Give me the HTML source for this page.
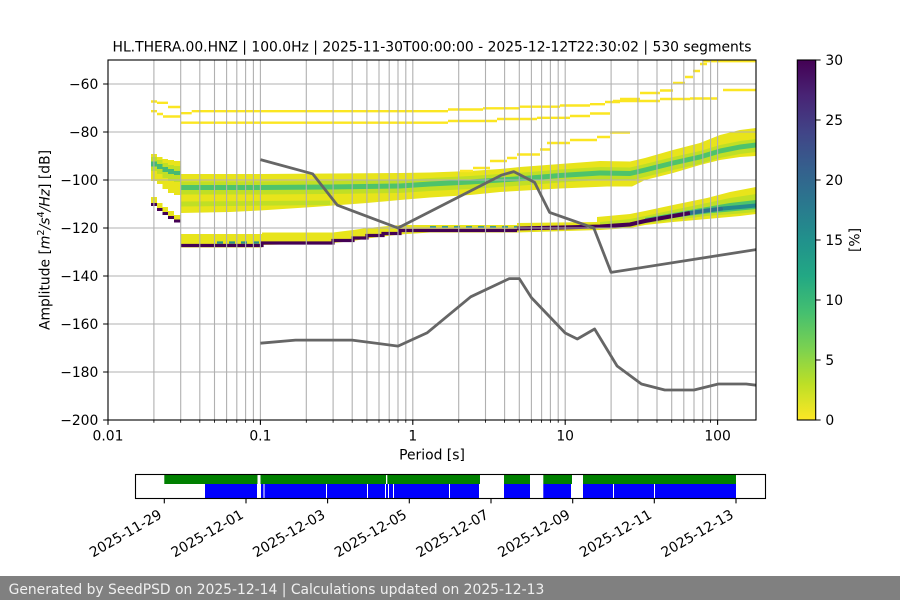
<!DOCTYPE html>
<html><head><meta charset="utf-8"><style>html,body{margin:0;padding:0;background:#fff;}svg{display:block;}</style></head>
<body>
<svg xmlns="http://www.w3.org/2000/svg" width="900" height="600" viewBox="0 0 900 600" font-family="'DejaVu Sans','Liberation Sans',sans-serif" font-size="13.89">
<rect width="900" height="600" fill="#fff"/>
<defs>
<clipPath id="ax"><rect x="108" y="60" width="648" height="360"/></clipPath>
<linearGradient id="vir" x1="0" y1="0" x2="0" y2="1">
<stop offset="0" stop-color="#440154"/><stop offset="0.1" stop-color="#482475"/><stop offset="0.2" stop-color="#414487"/><stop offset="0.3" stop-color="#355f8d"/><stop offset="0.4" stop-color="#2a788e"/><stop offset="0.5" stop-color="#21918c"/><stop offset="0.6" stop-color="#22a884"/><stop offset="0.7" stop-color="#44bf70"/><stop offset="0.8" stop-color="#7ad151"/><stop offset="0.9" stop-color="#bddf26"/><stop offset="1" stop-color="#fde725"/>
</linearGradient>
</defs>

<text x="432" y="51.7" text-anchor="middle">HL.THERA.00.HNZ | 100.0Hz | 2025-11-30T00:00:00 - 2025-12-12T22:30:02 | 530 segments</text>

<g clip-path="url(#ax)">
<!-- left upper columns -->
<g fill="#e8e41b">
<rect x="151" y="154" width="6" height="27"/><rect x="157" y="157" width="5.5" height="27"/><rect x="162.5" y="159" width="5.5" height="30"/><rect x="168" y="160" width="6" height="33"/><rect x="174" y="161" width="6.7" height="34"/>
</g>
<g fill="#c0df25">
<rect x="151" y="157" width="6" height="14"/><rect x="157" y="160" width="5.5" height="14"/><rect x="162.5" y="163" width="5.5" height="15"/><rect x="168" y="165" width="6" height="16"/><rect x="174" y="166" width="6.7" height="16"/>
</g>
<g fill="#45b974">
<rect x="151" y="161.5" width="6" height="5"/><rect x="157" y="164" width="5.5" height="5"/><rect x="162.5" y="167" width="5.5" height="5"/><rect x="168" y="169" width="6" height="5"/><rect x="174" y="171" width="6.7" height="4"/>
</g>
<!-- left lower staircase -->
<g fill="#e8e41b">
<rect x="151" y="197" width="6" height="6"/><rect x="157" y="203" width="5.5" height="5"/><rect x="162.5" y="207" width="5.5" height="5"/><rect x="168" y="211" width="6" height="5"/><rect x="174" y="215" width="6.7" height="4.5"/>
</g>
<g fill="#440154">
<rect x="151" y="203" width="6" height="3"/><rect x="157" y="208" width="5.5" height="3"/><rect x="162.5" y="212" width="5.5" height="3"/><rect x="168" y="216" width="6" height="3"/><rect x="174" y="219.5" width="6.7" height="3"/>
</g>

<!-- main upper band -->
<polygon fill="#e8e41b" points="180.7,174 260,174 330,173.5 400,173 430,172.5 470,171 500,169 520,167 560,164 600,161 630,161.5 645,158 673,150 700,143 720,135 740,130 756,128 756,156 740,157 720,160 700,165 673,173 645,180 632,186.5 607,186.5 560,188.5 500,192 470,195 430,197.5 400,200 367,203 313,207 260,210.5 230,212 180.7,213"/>
<polygon fill="#c0df25" points="180.7,181.5 260,181.5 330,181 400,180 430,178 470,176 500,174 530,172 560,169.5 600,167 630,167.5 645,164 673,157 700,151 720,145 740,141 756,139 756,152 740,154 720,158 700,164 673,170 645,177 630,180.5 600,180 560,182.5 530,185 500,187 470,189 430,191 400,193 330,194 260,194.5 180.7,194.5"/>
<polygon fill="#c0df25" points="180.7,201.5 330,200.5 330,205 180.7,206.5"/>
<polygon fill="#4ec36b" points="180.7,185 260,185 330,184.5 400,183.5 430,181.5 470,179.5 500,177.5 530,175.5 560,173 600,170.5 630,171 645,167.5 673,160.5 700,154.5 720,148.5 740,144.5 756,142.5 756,147.5 740,149.5 720,153.5 700,159.5 673,165.5 645,172.5 630,176 600,175.5 560,178 530,180.5 500,182.5 470,184.5 430,186.5 400,188.5 330,189.5 260,190 180.7,190"/>

<!-- lower band -->
<polygon fill="#e8e41b" points="180.7,234 262,234 262,232.5 333,232.5 353,230 367,228 383,226.5 400,225 517,225 517,223 597,222 597,217 630,214 645,211 673,205 707,198 730,192 756,187 756,214 740,216 707,219 673,222 645,225 630,228 600,230 517,232.5 430,232.5 400,234.5 383,236.5 367,238.5 353,241 333,243 262,245 262,247.5 180.7,247.5"/>
<polygon fill="#c0df25" points="600,222 630,219 645,216 673,210 707,203 730,198 756,194 756,212 740,213.5 707,216 673,220 645,223.5 630,227 600,229"/>
<polygon fill="#4ec36b" points="645,218 673,213 707,207 730,203 756,200 756,209 730,211.5 707,213.5 673,218 645,222"/>
<path d="M430,227.3 H517 M217,242.6 H262" stroke="#2a8f8c" stroke-width="2.4" stroke-dasharray="6 6" fill="none"/>
<path d="M180.7,245.5 H262 V243 H333 V240.5 H353 V238 H367 V235.5 H383 V233.5 H400 V230.5 H517" stroke="#440154" stroke-width="3.2" fill="none"/>
<path d="M517,228.5 L560,227.5 L600,226.5 L630,224.5 L645,221 L673,216 L690,213" stroke="#440154" stroke-width="4" fill="none"/>
<path d="M690,213 L707,210.5 L723,208.5" stroke="#2c728e" stroke-width="4" fill="none"/>
<path d="M723,208.5 L740,207 L756,205.5" stroke="#23898e" stroke-width="4" fill="none"/>

<!-- thin yellow lines -->
<g stroke="#fbe622" stroke-width="2.4" fill="none">
<path d="M151,101.5 H157 M157,102.8 H168 M168,107 H180.7 M180.7,113.2 H191.7 M191.7,111.2 H448 M448,109.5 H483 M483,108.3 H520 M520,106.7 H560 M560,105.5 H590 M590,104.2 H605 M605,102 H620 M620,99 H640 M640,93 H660 M660,90.5 H673 M673,83 H685 M685,77 H693 M693,71 H700 M700,64 H707 M703,61.2 H756"/>
<path d="M151,111.2 H157 M157,114 H163 M163,116.5 H180.7 M180.7,122.7 H448 M448,121 H497 M497,119 H537 M537,117.8 H570 M570,116 H590 M590,113.5 H610"/>
<path d="M460,171 H473 M473,168 H490 M490,161 H507 M507,158 H517 M517,154.5 H540 M540,149.5 H550 M547,143 H570 M570,140 H597 M597,137 H610 M610,132.5 H630"/>
<path d="M613,101 H660 M660,99 H690 M690,98.5 H717 M723,90 H756"/>
</g>

<!-- grid -->
<path stroke="#b0b0b0" stroke-width="1.1" fill="none" d="M153.9,60V420M180.7,60V420M199.8,60V420M214.5,60V420M226.6,60V420M236.8,60V420M245.6,60V420M253.4,60V420M260.4,60V420M306.3,60V420M333.1,60V420M352.2,60V420M366.9,60V420M379,60V420M389.2,60V420M398,60V420M405.8,60V420M412.8,60V420M458.7,60V420M485.5,60V420M504.6,60V420M519.3,60V420M531.4,60V420M541.6,60V420M550.4,60V420M558.2,60V420M565.2,60V420M611.1,60V420M637.9,60V420M657,60V420M671.7,60V420M683.8,60V420M694,60V420M702.8,60V420M710.6,60V420M717.6,60V420M108,84H756M108,132H756M108,180H756M108,228H756M108,276H756M108,324H756M108,372H756"/>

<!-- noise models -->
<polyline fill="none" stroke="#666666" stroke-width="2.8" stroke-linejoin="round" points="260.4,159.6 312.6,173.8 337.4,205.2 398,228 501.2,175.2 513.8,171.6 534.6,182.4 549.6,212.4 593.8,228 611.1,272.4 756,249.6"/>
<polyline fill="none" stroke="#666666" stroke-width="2.8" stroke-linejoin="round" points="260.4,343.2 295.5,340.1 352.1,340.1 398,346.1 427,332.9 470.7,296.8 509.3,278.6 519.3,278.6 531.4,297.6 565.2,333 577.3,339 594.6,329 617.1,366 641.4,384 664.8,390 694,390 718.3,384 746.2,384 756,385.2"/>
</g>

<!-- spines -->
<rect x="108" y="60" width="648" height="360" fill="none" stroke="#000" stroke-width="1.1"/>
<!-- x ticks -->
<path stroke="#000" stroke-width="1.1" d="M108,420V424.9M260.4,420V424.9M412.8,420V424.9M565.2,420V424.9M717.6,420V424.9"/>
<path stroke="#000" stroke-width="0.83" d="M153.9,420V422.8M180.7,420V422.8M199.8,420V422.8M214.5,420V422.8M226.6,420V422.8M236.8,420V422.8M245.6,420V422.8M253.4,420V422.8M306.3,420V422.8M333.1,420V422.8M352.2,420V422.8M366.9,420V422.8M379,420V422.8M389.2,420V422.8M398,420V422.8M405.8,420V422.8M458.7,420V422.8M485.5,420V422.8M504.6,420V422.8M519.3,420V422.8M531.4,420V422.8M541.6,420V422.8M550.4,420V422.8M558.2,420V422.8M611.1,420V422.8M637.9,420V422.8M657,420V422.8M671.7,420V422.8M683.8,420V422.8M694,420V422.8M702.8,420V422.8M710.6,420V422.8"/>
<g text-anchor="middle">
<text x="108" y="440.3">0.01</text><text x="260.4" y="440.3">0.1</text><text x="412.8" y="440.3">1</text><text x="565.2" y="440.3">10</text><text x="717.6" y="440.3">100</text>
<text x="432" y="459.3">Period [s]</text>
</g>
<!-- y ticks -->
<path stroke="#000" stroke-width="1.1" d="M103.1,84H108M103.1,132H108M103.1,180H108M103.1,228H108M103.1,276H108M103.1,324H108M103.1,372H108M103.1,420H108"/>
<g text-anchor="end">
<text x="98.3" y="89">−60</text><text x="98.3" y="137">−80</text><text x="98.3" y="185">−100</text><text x="98.3" y="233">−120</text><text x="98.3" y="281">−140</text><text x="98.3" y="329">−160</text><text x="98.3" y="377">−180</text><text x="98.3" y="425">−200</text>
</g>
<text transform="translate(49.5,240) rotate(-90)" text-anchor="middle">Amplitude [<tspan font-style="italic">m</tspan><tspan font-size="9.7" dy="-5.5">2</tspan><tspan dy="5.5" font-style="italic">/s</tspan><tspan font-size="9.7" dy="-5.5">4</tspan><tspan dy="5.5" font-style="italic">/Hz</tspan>] [dB]</text>

<!-- colorbar -->
<rect x="797.3" y="60" width="18.4" height="360" fill="url(#vir)" stroke="#000" stroke-width="1.1"/>
<path stroke="#000" stroke-width="1.1" d="M815.7,60H820.6M815.7,120H820.6M815.7,180H820.6M815.7,240H820.6M815.7,300H820.6M815.7,360H820.6M815.7,420H820.6"/>
<g>
<text x="825.4" y="65">30</text><text x="825.4" y="125">25</text><text x="825.4" y="185">20</text><text x="825.4" y="245">15</text><text x="825.4" y="305">10</text><text x="825.4" y="365">5</text><text x="825.4" y="425">0</text>
</g>
<text transform="translate(859.3,240) rotate(-90)" text-anchor="middle">[%]</text>

<!-- timeline -->
<g fill="#008000">
<rect x="164.3" y="474.5" width="93.2" height="9.5"/><rect x="260.5" y="474.5" width="125.5" height="9.5"/><rect x="387.3" y="474.5" width="92.7" height="9.5"/><rect x="504" y="474.5" width="26" height="9.5"/><rect x="543.3" y="474.5" width="28.7" height="9.5"/><rect x="583" y="474.5" width="153" height="9.5"/>
</g>
<g fill="#0000ff">
<rect x="205" y="484" width="52" height="14.5"/><rect x="261" y="484" width="2.5" height="14.5"/><rect x="264.5" y="484" width="61.5" height="14.5"/><rect x="327" y="484" width="40" height="14.5"/><rect x="368" y="484" width="17" height="14.5"/><rect x="386" y="484" width="2" height="14.5"/><rect x="389" y="484" width="4" height="14.5"/><rect x="394" y="484" width="55" height="14.5"/><rect x="450" y="484" width="29" height="14.5"/><rect x="504" y="484" width="26" height="14.5"/><rect x="543.3" y="484" width="27.7" height="14.5"/><rect x="583" y="484" width="30" height="14.5"/><rect x="614" y="484" width="40" height="14.5"/><rect x="655" y="484" width="81" height="14.5"/>
</g>
<rect x="135.5" y="474.5" width="630" height="24" fill="none" stroke="#000" stroke-width="1.1"/>
<path stroke="#000" stroke-width="1.1" d="M164.3,498.5V503.4M246,498.5V503.4M327.6,498.5V503.4M409.3,498.5V503.4M491,498.5V503.4M572.7,498.5V503.4M654.3,498.5V503.4M736,498.5V503.4"/>
<g text-anchor="end">
<text transform="translate(162.8,517.3) rotate(-30)">2025-11-29</text>
<text transform="translate(244.5,517.3) rotate(-30)">2025-12-01</text>
<text transform="translate(326.1,517.3) rotate(-30)">2025-12-03</text>
<text transform="translate(407.8,517.3) rotate(-30)">2025-12-05</text>
<text transform="translate(489.5,517.3) rotate(-30)">2025-12-07</text>
<text transform="translate(571.2,517.3) rotate(-30)">2025-12-09</text>
<text transform="translate(652.8,517.3) rotate(-30)">2025-12-11</text>
<text transform="translate(734.5,517.3) rotate(-30)">2025-12-13</text>
</g>

<!-- footer -->
<rect x="0" y="576" width="900" height="24" fill="#808080"/>
<text x="8.6" y="594" fill="#f0f0f0">Generated by SeedPSD on 2025-12-14 | Calculations updated on 2025-12-13</text>
</svg>
</body></html>
